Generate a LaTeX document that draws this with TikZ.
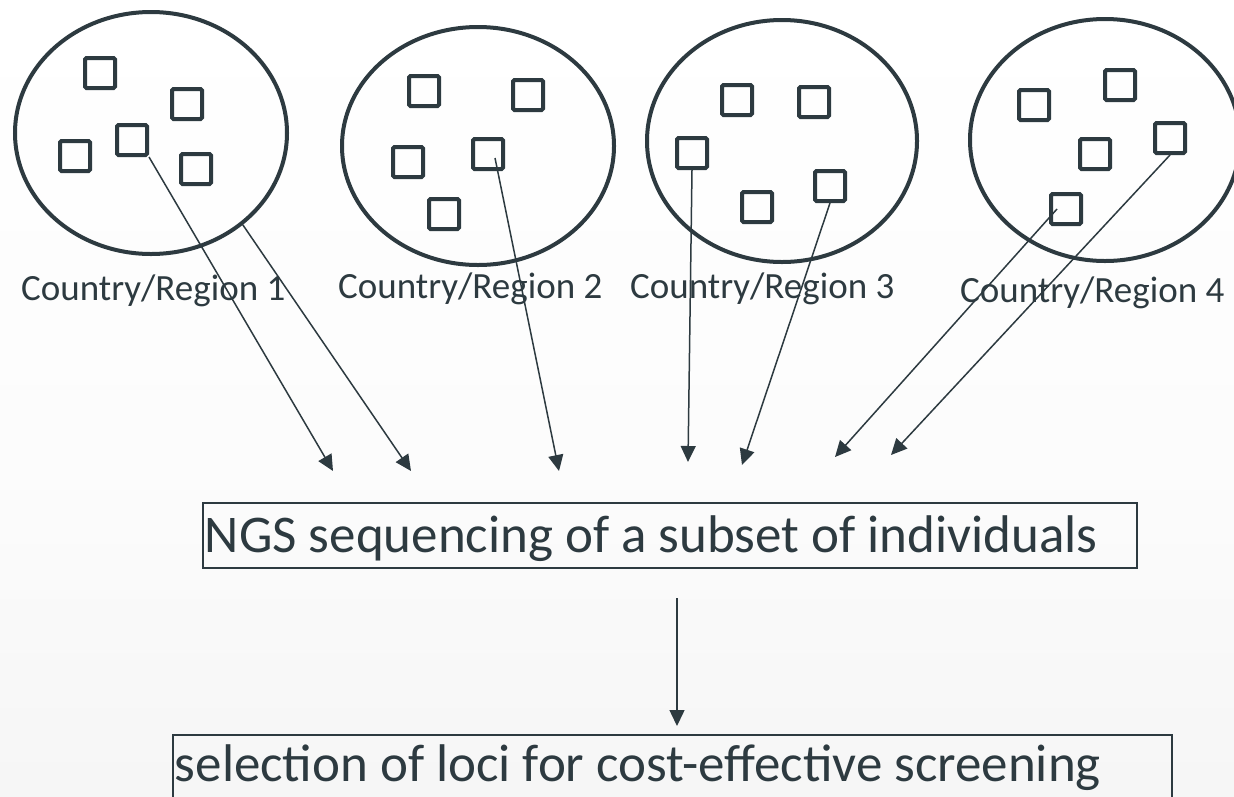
\documentclass[tikz,border=0pt]{standalone}
\usepackage{fontspec}
\setmainfont{Carlito}
\usetikzlibrary{arrows.meta,calc,shapes.geometric}

\definecolor{ink}{RGB}{45,58,64}
\definecolor{bgA}{RGB}{236,236,236}
\definecolor{bgB}{RGB}{245,245,245}
\definecolor{bgC}{RGB}{252,252,252}

% soft vertical fade of the page, grey at the foot, white at the head
\pgfdeclareverticalshading{bgfade}{100bp}{color(0bp)=(bgA); color(22bp)=(bgB); color(46bp)=(bgC); color(75bp)=(white); color(100bp)=(white)}

\begin{document}
\begin{tikzpicture}[x=1pt,y=-1pt,
  region/.style={ellipse, draw=ink, line width=4pt, inner sep=0pt},
  member/.style={draw=ink, line width=4pt, rounded corners=1.5pt, minimum size=30pt, inner sep=0pt},
  link/.style={draw=ink, line width=1.5pt, -{Triangle[length=16pt,width=15pt]}},
  tag/.style={anchor=base west, inner sep=0pt, text=ink, font=\fontsize{37pt}{44pt}\selectfont},
  stage/.style={draw=ink, line width=1.8pt, anchor=north west, inner ysep=0pt, align=flush left, text=ink, font=\fontsize{53pt}{60pt}\selectfont}]

\useasboundingbox (0,0) rectangle (1234,796);
\clip (0,0) rectangle (1234,796);
\begin{scope}[y=1pt]
  \shade[shading=bgfade] (0,-796) rectangle (1234,0);
\end{scope}

% populations
\node[region, minimum width=272pt, minimum height=242pt] (e1) at (151,133) {};
\node[region, minimum width=272pt, minimum height=238pt] (e2) at (478,146) {};
\node[region, minimum width=270pt, minimum height=242pt] (e3) at (782,141) {};
\node[region, minimum width=270pt, minimum height=242pt] (e4) at (1105,140) {};

% individuals
\node[member] (r1a) at (100,73) {};
\node[member] (r1b) at (187,104) {};
\node[member] (r1c) at (132,140) {};
\node[member] (r1d) at (75,156) {};
\node[member] (r1e) at (196,169) {};

\node[member] (r2a) at (424,91) {};
\node[member] (r2b) at (528,95) {};
\node[member] (r2c) at (408,162) {};
\node[member] (r2d) at (488,154) {};
\node[member] (r2e) at (444,214) {};

\node[member] (r3a) at (737,100) {};
\node[member] (r3b) at (814,102) {};
\node[member] (r3c) at (692,153) {};
\node[member] (r3d) at (757,207) {};
\node[member] (r3e) at (830,186) {};

\node[member] (r4a) at (1034,105) {};
\node[member] (r4b) at (1120,85) {};
\node[member] (r4c) at (1170,138) {};
\node[member] (r4d) at (1095,154) {};
\node[member] (r4e) at (1066,209) {};

% population names
\node[tag] (l1) at (21,300) {Country/Region 1};
\node[tag] (l2) at (338,298) {Country/Region 2};
\node[tag] (l3) at (630,298) {Country/Region 3};
\node[tag] (l4) at (960,302) {Country/Region 4};

% workflow stages
\node[stage, text width=930pt, inner xsep=2pt, text height=50pt, text depth=15pt] (ngs) at (202,502) {\spaceskip=0pt NGS sequencing of a subset of individuals};
\node[stage, text width=995pt, inner xsep=2pt, text height=47pt, text depth=20pt] (loci) at (172,734) {\spaceskip=0pt selection of loci for cost-effective screening};

% arrow ends above the sequencing stage
\coordinate (t1) at (333,471);
\coordinate (t2) at (411,471);
\coordinate (t3) at (559,471);
\coordinate (t4) at (688,462);
\coordinate (t5) at (742,465);
\coordinate (t6) at (835,457);
\coordinate (t7) at (891,455);
\coordinate (s0) at (677,598);

\draw[link] (r1c.south east) -- (t1);
\draw[link] (e1.-45) -- (t2);
\draw[link] ($(r2d.center)+(7,4)$) -- (t3);
\draw[link] (r3c.south) -- (t4);
\draw[link] (r3e.south) -- (t5);
\draw[link] ($(r4e.center)+(-9,0)$) -- (t6);
\draw[link] (r4c.south) -- (t7);

\draw[link, shorten >=8pt] (s0) -- (s0 |- loci.north);
\end{tikzpicture}
\end{document}
